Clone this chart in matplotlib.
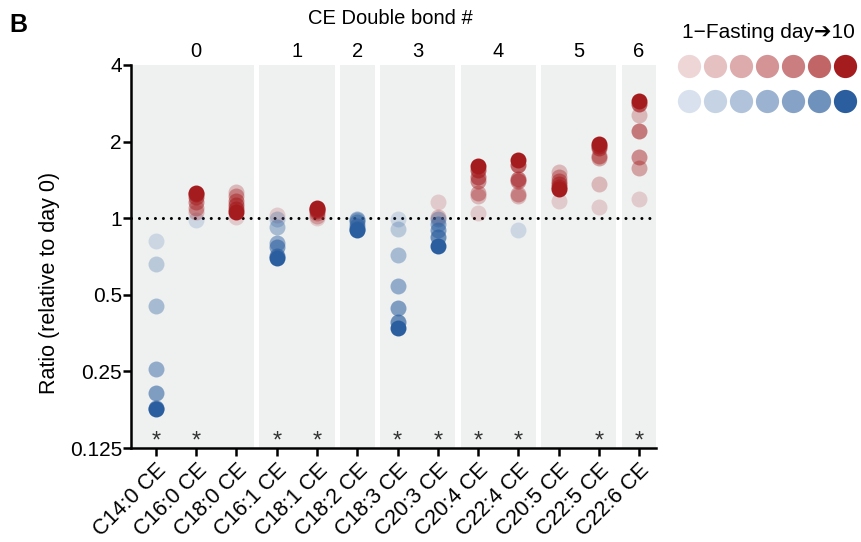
import numpy as np
import matplotlib
matplotlib.use("Agg")
import matplotlib.pyplot as plt
from matplotlib.transforms import blended_transform_factory

plt.rcParams['font.family'] = ['Liberation Sans', 'DejaVu Sans']

# %% data
lipids = ['C14:0 CE', 'C16:0 CE', 'C18:0 CE', 'C16:1 CE', 'C18:1 CE', 'C18:2 CE',
          'C18:3 CE', 'C20:3 CE', 'C20:4 CE', 'C22:4 CE', 'C20:5 CE', 'C22:5 CE',
          'C22:6 CE']
double_bonds = [0, 0, 0, 1, 1, 2, 3, 3, 4, 4, 5, 5, 6]
signif = [1, 1, 0, 1, 1, 0, 1, 1, 1, 1, 0, 1, 1]

# ratio vs day 0, one row per lipid, columns = fasting days (light -> dark)
ratios = [
    [0.81, 0.66, 0.45, 0.255, 0.205, 0.18, 0.178],   # C14:0
    [0.98, 1.06, 1.10, 1.16, 1.21, 1.25, 1.26],      # C16:0
    [1.01, 1.27, 1.22, 1.17, 1.13, 1.09, 1.06],      # C18:0
    [1.03, 0.99, 0.92, 0.80, 0.77, 0.71, 0.70],      # C16:1
    [1.00, 1.02, 1.05, 1.07, 1.08, 1.09, 1.10],      # C18:1
    [0.99, 0.99, 0.985, 0.97, 0.93, 0.91, 0.90],     # C18:2
    [0.99, 0.91, 0.72, 0.54, 0.445, 0.39, 0.37],     # C18:3
    [1.16, 1.01, 0.99, 0.95, 0.90, 0.84, 0.78],      # C20:3
    [1.05, 1.22, 1.26, 1.40, 1.45, 1.55, 1.61],      # C20:4
    [0.90, 1.22, 1.25, 1.40, 1.43, 1.62, 1.69],      # C22:4
    [1.17, 1.52, 1.45, 1.40, 1.36, 1.33, 1.30],      # C20:5
    [1.11, 1.36, 1.72, 1.76, 1.88, 1.93, 1.96],      # C22:5
    [1.19, 2.54, 1.57, 1.74, 2.21, 2.82, 2.88],      # C22:6
]
day_alpha = [0.18, 0.27, 0.37, 0.47, 0.57, 0.68, 1.0]

red = np.array([165, 28, 31]) / 255
blue = np.array([43, 94, 158]) / 255
bg = '#EFF1F1'

# %% figure
fig = plt.figure(figsize=(8.61, 5.42), dpi=100)
ax = fig.add_axes([131/861, 1-448/542, (656-131)/861, (448-65)/542])

x = np.arange(len(lipids))
ax.set_xlim(-0.62, 12.42)
ax.set_yscale('log', base=2)
ax.set_ylim(0.125, 4)

# grey panels per double bond group
groups = sorted(set(double_bonds))
for g in groups:
    idx = [i for i, d in enumerate(double_bonds) if d == g]
    lo = idx[0] - 0.5 + 0.065
    hi = min(idx[-1] + 0.5 - 0.065, 12.42)
    if idx[0] == 0:
        lo = -0.62
    ax.axvspan(lo, hi, color=bg, zorder=0, lw=0)

trans = blended_transform_factory(ax.transData, ax.transAxes)
for g in groups:
    idx = [i for i, d in enumerate(double_bonds) if d == g]
    ax.text(np.mean(idx), 1.034, str(g), transform=trans, ha='center',
            va='center', fontsize=14.5)

ax.axhline(1, color='black', lw=2.2, linestyle=(0, (0.01, 2.6)),
           dash_capstyle='round', zorder=1)

for i, vals in enumerate(ratios):
    for d, v in enumerate(vals):
        c = red if v >= 1 else blue
        ax.scatter(x[i], v, s=132, color=c, alpha=day_alpha[d], lw=0, zorder=2)
    if signif[i]:
        ax.text(x[i], 0.132, '*', ha='center', va='center', fontsize=17,
                color='#333333')

ax.set_xticks(x)
ax.set_xticklabels(lipids, rotation=45, ha='right', rotation_mode='anchor',
                   fontsize=15.5)
yt = [0.125, 0.25, 0.5, 1, 2, 4]
ax.set_yticks(yt)
ax.set_yticklabels(['0.125', '0.25', '0.5', '1', '2', '4'], fontsize=15)
ax.minorticks_off()
for s in ['top', 'right']:
    ax.spines[s].set_visible(False)
for s in ['left', 'bottom']:
    ax.spines[s].set_linewidth(1.8)
ax.tick_params(width=1.8, length=5.5, pad=1)
ax.tick_params(axis='x', pad=3)

fig.text(50/861, 1-283/542, 'Ratio (relative to day 0)', rotation=90,
         ha='center', va='center', fontsize=15.5)
fig.text(390/861, 1-18/542, 'CE Double bond #', ha='center', va='center',
         fontsize=14.5)
fig.text(18/861, 1-25/542, 'B', ha='center', va='center', fontsize=18,
         fontweight='bold')

# %% legend
lax = fig.add_axes([676/861, 1-119/542, 182/861, 71/542])
lax.set_xlim(-0.5, 6.5)
lax.set_ylim(-0.5, 1.5)
lax.axis('off')
for d, a in enumerate(day_alpha):
    lax.scatter(d, 1, s=280, color=red, alpha=a, lw=0)
    lax.scatter(d, 0, s=280, color=blue, alpha=a, lw=0)
fig.text(768/861, 1-33/542, '1\u2212Fasting day\u279410', ha='center',
         va='center', fontsize=15)

fig.savefig('out.png', dpi=100)
